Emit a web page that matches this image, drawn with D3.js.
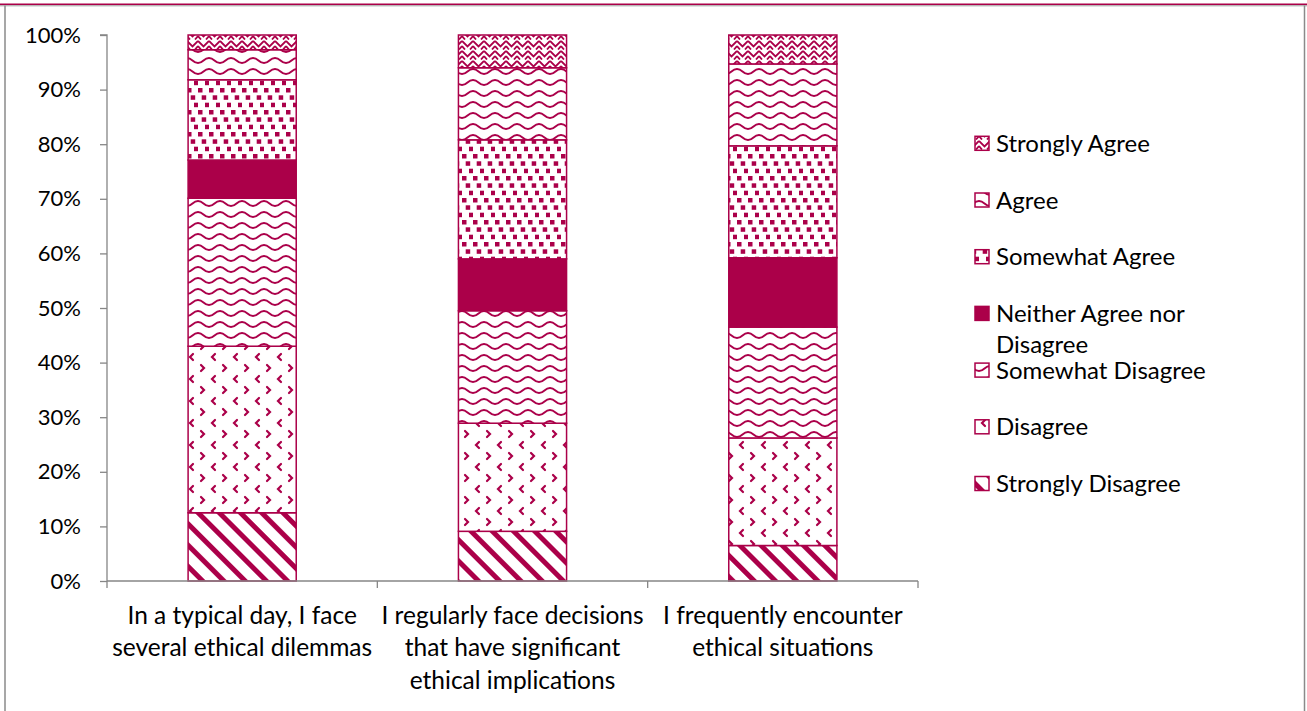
<!DOCTYPE html>
<html><head><meta charset="utf-8">
<script src="https://cdn.jsdelivr.net/npm/d3@7"></script>
<style>body{margin:0;background:#fff}svg{display:block}</style>
</head><body><svg id="c" width="1307" height="711"></svg>
<script>
const categories = [
  ["In a typical day, I face", "several ethical dilemmas"],
  ["I regularly face decisions", "that have significant", "ethical implications"],
  ["I frequently encounter", "ethical situations"]
];
const seriesNames = ["Strongly Disagree", "Disagree", "Somewhat Disagree", "Neither Agree nor Disagree", "Somewhat Agree", "Agree", "Strongly Agree"];
const stronglyDisagree = [12.5, 9.1, 6.5];
const disagree = [30.5, 19.8, 19.7];
const somewhatDisagree = [27.1, 20.6, 20.3];
const neitherAgreeNorDisagree = [7.0, 9.5, 12.7];
const somewhatAgree = [14.7, 21.8, 20.5];
const agree = [5.5, 13.2, 15.0];
const stronglyAgree = [2.7, 6.0, 5.3];
const yTicks = [0, 10, 20, 30, 40, 50, 60, 70, 80, 90, 100];

const seriesValues = [stronglyDisagree, disagree, somewhatDisagree, neitherAgreeNorDisagree, somewhatAgree, agree, stronglyAgree];
const patternIds = ["p-sd", "p-d", "p-swd", "p-n", "p-swa", "p-a", "p-sa"];
const legendLines = [["Strongly Disagree"], ["Disagree"], ["Somewhat Disagree"], ["Neither Agree nor", "Disagree"], ["Somewhat Agree"], ["Agree"], ["Strongly Agree"]];

const C = "#AB0049";
const FONT = "Lato, 'Noto Sans', sans-serif";
const svg = d3.select("#c");

// frame
svg.append("line").attr("x1", 0).attr("x2", 1307).attr("y1", 4.3).attr("y2", 4.3).attr("stroke", C).attr("stroke-width", 1.6);
svg.append("line").attr("x1", 0).attr("x2", 1307).attr("y1", 5.8).attr("y2", 5.8).attr("stroke", "#9a9a9a").attr("stroke-width", 1);
svg.append("line").attr("x1", 5).attr("x2", 5).attr("y1", 5.5).attr("y2", 711).attr("stroke", "#8a8a8a").attr("stroke-width", 1.5);
svg.append("line").attr("x1", 1304.5).attr("x2", 1304.5).attr("y1", 5.5).attr("y2", 711).attr("stroke", "#8a8a8a").attr("stroke-width", 1.5);

// patterns
const defs = svg.append("defs");
function pat(id, w, h, transform) {
  const p = defs.append("pattern").attr("id", id).attr("patternUnits", "userSpaceOnUse")
    .attr("width", w).attr("height", h);
  if (transform) p.attr("patternTransform", transform);
  p.append("rect").attr("width", w).attr("height", h).attr("fill", "#fff");
  return p;
}
let p = pat("p-sd", 15, 15, "rotate(-45)");
p.append("rect").attr("x", 0).attr("width", 5).attr("height", 15).attr("fill", C);

p = pat("p-d", 22, 22);
p.append("path").attr("d", "M3,13 l3,3 l-3,3 M17,2 l-3,3 l3,3").attr("fill", "none").attr("stroke", C).attr("stroke-width", 2.2).attr("stroke-linecap", "round");

p = pat("p-swd", 22, 11);
p.append("path").attr("d", "M0,3 C5.5,3 5.5,8 11,8 C16.5,8 16.5,3 22,3").attr("fill", "none").attr("stroke", C).attr("stroke-width", 1.9);

p = pat("p-n", 10, 10);
p.select("rect").attr("fill", C);

p = pat("p-swa", 11, 22);
[[0, 0], [3.7, 7.3], [7, 14.7]].forEach(([x, y]) => p.append("rect").attr("x", x).attr("y", y).attr("width", 4.5).attr("height", 4.5).attr("fill", C));

p = pat("p-a", 22, 11);
p.append("path").attr("d", "M0,8 C5.5,8 5.5,3 11,3 C16.5,3 16.5,8 22,8").attr("fill", "none").attr("stroke", C).attr("stroke-width", 1.9);

p = pat("p-sa", 11, 10);
p.append("path").attr("d", "M0,1 L5.5,6.5 L11,1 M0,6 L3,9.5 M11,6 L8,9.5").attr("fill", "none").attr("stroke", C).attr("stroke-width", 1.8);

// scales
const x = d3.scaleBand().domain(d3.range(categories.length)).range([107, 918]).paddingInner(0.6).paddingOuter(0.3);
const y = d3.scaleLinear().domain([0, 100]).range([581, 35]);

// stack
const rows = categories.map((c, i) => {
  const o = { idx: i };
  seriesNames.forEach((s, k) => o[s] = seriesValues[k][i]);
  return o;
});
const stacked = d3.stack().keys(seriesNames)(rows);

const bars = svg.append("g");
stacked.forEach((layer, k) => {
  bars.append("g").selectAll("rect").data(layer).join("rect")
    .attr("x", d => x(d.data.idx))
    .attr("width", x.bandwidth())
    .attr("y", d => y(d[1]))
    .attr("height", d => y(d[0]) - y(d[1]))
    .attr("fill", `url(#${patternIds[k]})`)
    .attr("stroke", C).attr("stroke-width", 1.5);
});

// y axis
const yAxis = svg.append("g").attr("transform", "translate(107,0)")
  .call(d3.axisLeft(y).tickValues(yTicks).tickSize(7).tickPadding(19).tickFormat(d => d + "%"));
yAxis.selectAll("line,path").attr("stroke", "#868686").attr("stroke-width", 1.3);
yAxis.select(".domain").attr("d", `M-7,${y(100)}H0V${y(0)}`);
yAxis.selectAll("text").attr("font-family", FONT).attr("font-size", 22).attr("fill", "#000");

// x axis
const xAxis = svg.append("g").attr("transform", "translate(0,581)")
  .call(d3.axisBottom(x).tickSize(0).tickFormat(""));
xAxis.select(".domain").attr("stroke", "#868686").attr("stroke-width", 1.3).attr("d", "M107,0H918");
const bounds = d3.range(categories.length + 1).map(i => 107 + i * x.step());
xAxis.selectAll(".btick").data(bounds).join("line").attr("class", "btick")
  .attr("x1", d => d).attr("x2", d => d).attr("y1", 0).attr("y2", 7)
  .attr("stroke", "#868686").attr("stroke-width", 1.3);

// category labels
categories.forEach((lines, i) => {
  const cx = x(i) + x.bandwidth() / 2;
  const t = svg.append("text").attr("text-anchor", "middle").attr("font-family", FONT).attr("font-size", 24.5).attr("fill", "#000");
  lines.forEach((ln, j) => t.append("tspan").attr("x", cx).attr("y", 624 + j * 32.3).text(ln));
});

// legend
const legendOrder = d3.range(seriesNames.length).reverse();
legendOrder.forEach((k, r) => {
  const cy = 143.3 + r * 56.7;
  svg.append("rect").attr("x", 975).attr("y", cy - 7).attr("width", 14).attr("height", 14)
    .attr("fill", `url(#${patternIds[k]})`).attr("stroke", C).attr("stroke-width", 1.5);
  const t = svg.append("text").attr("font-family", FONT).attr("font-size", 24).attr("fill", "#000");
  legendLines[k].forEach((ln, j) => t.append("tspan").attr("x", 996).attr("y", cy + 8.5 + j * 31.5).text(ln));
});
</script></body></html>
